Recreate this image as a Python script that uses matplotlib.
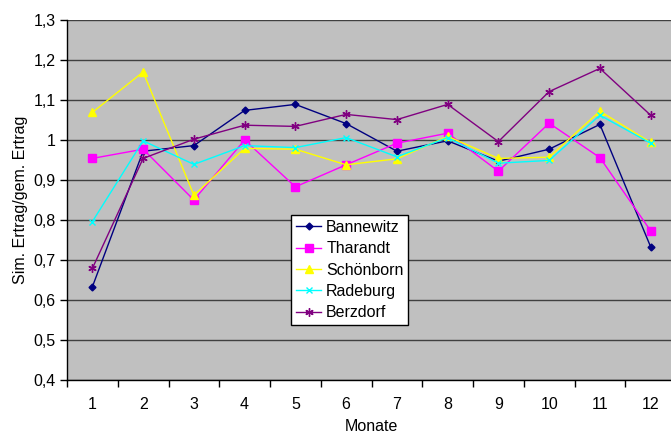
import matplotlib
matplotlib.use("Agg")
import matplotlib.pyplot as plt
from matplotlib.ticker import FixedLocator, FuncFormatter

plt.rcParams['font.family'] = ['Liberation Sans', 'DejaVu Sans']

months = [1, 2, 3, 4, 5, 6, 7, 8, 9, 10, 11, 12]
month_labels = [str(m) for m in months]

bannewitz = [0.633, 0.972, 0.986, 1.074, 1.089, 1.041, 0.972, 0.998, 0.947, 0.977, 1.039, 0.733]
tharandt = [0.954, 0.977, 0.850, 1.000, 0.883, 0.938, 0.992, 1.017, 0.922, 1.042, 0.956, 0.773]
schoenborn = [1.069, 1.170, 0.862, 0.979, 0.977, 0.938, 0.953, 1.009, 0.954, 0.957, 1.072, 0.994]
radeburg = [0.796, 0.998, 0.939, 0.986, 0.981, 1.006, 0.958, 1.006, 0.942, 0.949, 1.062, 0.992]
berzdorf = [0.679, 0.954, 1.002, 1.037, 1.034, 1.064, 1.051, 1.089, 0.996, 1.121, 1.179, 1.062]

series_names = ["Bannewitz", "Tharandt", "Schönborn", "Radeburg", "Berzdorf"]
series_values = [bannewitz, tharandt, schoenborn, radeburg, berzdorf]
colors = ["#000080", "#FF00FF", "#FFFF00", "#00FFFF", "#800080"]
markers = ["D", "s", "^", "x", (6, 2, 0)]
msizes = [3.5, 5.5, 5.5, 5, 6]

FS = 11.5

fig = plt.figure(figsize=(6.71, 4.34), dpi=100)
ax = fig.add_axes([67/671, 54/434, 609/671, 360/434])
ax.set_facecolor("#C0C0C0")

for name, vals, c, m, ms in zip(series_names, series_values, colors, markers, msizes):
    ax.plot(months, vals, color=c, marker=m, markersize=ms, lw=1,
            markeredgewidth=1, label=name, zorder=3)

ax.set_xlim(0.5, 12.5)
ax.set_ylim(0.4, 1.3)
yt = [0.4 + 0.1*i for i in range(10)]
ax.yaxis.set_major_locator(FixedLocator(yt))
ax.yaxis.set_major_formatter(FuncFormatter(lambda v, p: ("%g" % round(v, 1)).replace(".", ",")))
ax.grid(axis='y', color="#404040", lw=1, zorder=1)

ax.xaxis.set_major_locator(FixedLocator([m + 0.5 for m in range(0, 13)]))
ax.xaxis.set_major_formatter(FuncFormatter(lambda v, p: ""))
ax.xaxis.set_minor_locator(FixedLocator(months))
ax.set_xticklabels(month_labels, minor=True)
ax.tick_params(axis='x', which='major', length=5, width=1, color='black', direction='out')
ax.tick_params(axis='x', which='minor', length=0, pad=12, labelsize=FS)
ax.tick_params(axis='y', which='major', length=5, width=1, color='black', direction='out', labelsize=FS, pad=3)

for s in ['top', 'right']:
    ax.spines[s].set_visible(False)
ax.spines['left'].set_color('black')
ax.spines['bottom'].set_color('black')
ax.spines['left'].set_linewidth(1)
ax.spines['bottom'].set_linewidth(1)

ax.set_xlabel("Monate", fontsize=FS, labelpad=5)
ax.set_ylabel("Sim. Ertrag/gem. Ertrag", fontsize=FS, labelpad=4)

leg = ax.legend(loc='upper left', bbox_to_anchor=((291-67)/609, (380-215)/360),
                fontsize=FS, frameon=True, fancybox=False, edgecolor='black',
                framealpha=1, borderpad=0.3, labelspacing=0.4, handlelength=1.6,
                handletextpad=0.3, borderaxespad=0)
leg.get_frame().set_linewidth(1)

fig.savefig("out.png", dpi=100)
